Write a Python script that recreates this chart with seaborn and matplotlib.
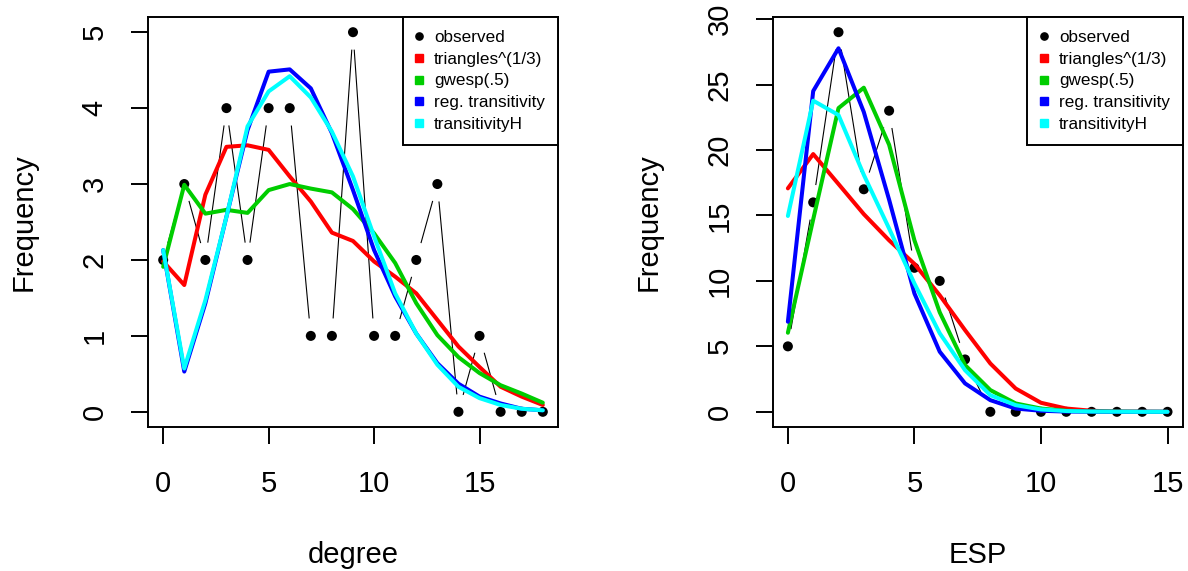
import numpy as np
import matplotlib
matplotlib.use("Agg")
import matplotlib.pyplot as plt
import seaborn as sns
from matplotlib.lines import Line2D

# Degree distribution: observed counts and model fits
degree = list(range(0, 19))
deg_observed = [2, 3, 2, 4, 2, 4, 4, 1, 1, 5, 1, 1, 2, 3, 0, 1, 0, 0, 0]
deg_triangles = [1.98, 1.67, 2.86, 3.49, 3.51, 3.45, 3.10, 2.77, 2.36, 2.25,
                 1.98, 1.78, 1.56, 1.21, 0.86, 0.59, 0.33, 0.20, 0.09]
deg_gwesp = [1.91, 2.99, 2.61, 2.66, 2.62, 2.92, 3.00, 2.94, 2.89, 2.67,
             2.35, 1.96, 1.43, 1.01, 0.72, 0.51, 0.35, 0.24, 0.12]
deg_regtrans = [2.13, 0.53, 1.43, 2.57, 3.71, 4.48, 4.51, 4.26, 3.67, 2.92,
                2.13, 1.52, 1.03, 0.64, 0.37, 0.20, 0.11, 0.04, 0.02]
deg_transH = [2.13, 0.57, 1.47, 2.57, 3.76, 4.22, 4.42, 4.14, 3.69, 3.10,
              2.31, 1.56, 1.03, 0.62, 0.33, 0.18, 0.09, 0.04, 0.02]

# Edgewise shared partner distribution
esp = list(range(0, 16))
esp_observed = [5, 16, 29, 17, 23, 11, 10, 4, 0, 0, 0, 0, 0, 0, 0, 0]
esp_triangles = [17.07, 19.69, 17.4, 15.1, 13.1, 11.3, 8.9, 6.24, 3.69, 1.78,
                 0.69, 0.25, 0.08, 0.02, 0.01, 0.0]
esp_gwesp = [6.04, 14.7, 23.2, 24.76, 20.4, 13.1, 7.6, 3.57, 1.66, 0.64,
             0.25, 0.08, 0.03, 0.01, 0.0, 0.0]
esp_regtrans = [6.88, 24.5, 27.77, 22.9, 16.2, 9.04, 4.59, 2.17, 0.89, 0.25,
                0.08, 0.02, 0.01, 0.0, 0.0, 0.0]
esp_transH = [14.96, 23.77, 22.67, 18.1, 14.0, 9.8, 6.0, 3.18, 1.27, 0.51,
              0.18, 0.06, 0.02, 0.01, 0.0, 0.0]

model_names = ["triangles^(1/3)", "gwesp(.5)", "reg. transitivity", "transitivityH"]
model_colors = ["#FF0000", "#00CD00", "#0000FF", "#00FFFF"]

sns.set_style("white")
plt.rcParams["font.family"] = ["Liberation Sans", "DejaVu Sans"]
plt.rcParams.update({
    "text.color": "black",
    "axes.labelcolor": "black",
    "xtick.color": "black",
    "ytick.color": "black",
    "xtick.bottom": True,
    "ytick.left": True,
})

W, H, DPI = 1188, 571, 100
fig = plt.figure(figsize=(W / DPI, H / DPI), dpi=DPI)


def px_rect(x0, y0, x1, y1):
    return [x0 / W, 1 - y1 / H, (x1 - x0) / W, (y1 - y0) / H]


def gapped_path(ax, x, y, gap_px=17.5):
    """Connect consecutive points with segments that stop short of each point."""
    pts = ax.transData.transform(np.column_stack([x, y]))
    inv = ax.transData.inverted()
    for p0, p1 in zip(pts[:-1], pts[1:]):
        d = p1 - p0
        length = np.hypot(*d)
        if length <= 2 * gap_px:
            continue
        u = d / length
        a = inv.transform(p0 + u * gap_px)
        b = inv.transform(p1 - u * gap_px)
        ax.plot([a[0], b[0]], [a[1], b[1]], color="black", lw=0.8,
                solid_capstyle="butt", zorder=2)


def panel(rect, x, observed, fits, xlabel, yticks):
    ax = fig.add_axes(rect)
    allvals = np.concatenate([observed] + [np.asarray(f) for f in fits])
    xlo, xhi = min(x), max(x)
    ylo, yhi = allvals.min(), allvals.max()
    ax.set_xlim(xlo - 0.04 * (xhi - xlo), xhi + 0.04 * (xhi - xlo))
    ax.set_ylim(ylo - 0.04 * (yhi - ylo), yhi + 0.04 * (yhi - ylo))

    gapped_path(ax, x, observed)
    sns.scatterplot(x=x, y=observed, ax=ax, color="black", s=52,
                    edgecolor="none", legend=False, zorder=3)
    for vals, col in zip(fits, model_colors):
        sns.lineplot(x=x, y=vals, ax=ax, color=col, lw=2.9, sort=False,
                     estimator=None, legend=False, zorder=4)

    ax.set_xticks([0, 5, 10, 15])
    ax.set_yticks(yticks)
    ax.tick_params(axis="both", direction="out", length=12.2, width=1.4,
                   labelsize=21, color="black", labelcolor="black",
                   bottom=True, left=True)
    ax.tick_params(axis="x", pad=19)
    ax.tick_params(axis="y", pad=16, labelrotation=90)
    for lab in ax.get_yticklabels():
        lab.set_verticalalignment("center")
    for s in ax.spines.values():
        s.set_visible(True)
        s.set_linewidth(1.4)
        s.set_color("black")

    ax.set_xlabel(xlabel, fontsize=21, color="black")
    ax.set_ylabel("Frequency", fontsize=21, color="black")
    ax.xaxis.set_label_coords(0.5, -0.312)
    ax.xaxis.label.set_verticalalignment("center")
    ax.yaxis.set_label_coords(-0.303, 0.5)
    ax.yaxis.label.set_verticalalignment("center")

    handles = [Line2D([], [], marker="o", color="black", linestyle="none",
                      markersize=5.2)]
    handles += [Line2D([], [], marker="s", color=c, linestyle="none",
                       markersize=5.6) for c in model_colors]
    leg = ax.legend(handles, ["observed"] + model_names, loc="upper right",
                    borderaxespad=0, fontsize=12.3, frameon=True,
                    fancybox=False, framealpha=1, edgecolor="black",
                    handlelength=0.4, handletextpad=0.7, borderpad=0.75,
                    labelspacing=0.4)
    for t in leg.get_texts():
        t.set_color("black")
    leg.get_frame().set_linewidth(1.4)
    leg.set_zorder(5)
    return ax


panel(px_rect(148, 17, 558, 427), degree, deg_observed,
      [deg_triangles, deg_gwesp, deg_regtrans, deg_transH], "degree",
      [0, 1, 2, 3, 4, 5])
panel(px_rect(772.7, 17, 1182.7, 427), esp, esp_observed,
      [esp_triangles, esp_gwesp, esp_regtrans, esp_transH], "ESP",
      [0, 5, 10, 15, 20, 25, 30])

fig.savefig("out.png", dpi=DPI, facecolor="white")
